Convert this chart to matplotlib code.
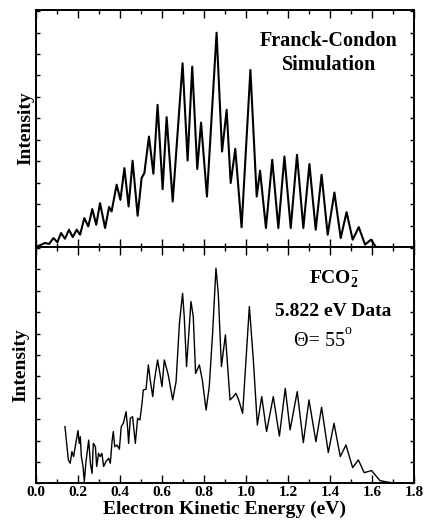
import matplotlib
matplotlib.use("Agg")
import matplotlib.pyplot as plt
from matplotlib.ticker import MultipleLocator

plt.rcParams['font.family'] = ['Liberation Serif', 'DejaVu Serif']
plt.rcParams['mathtext.fontset'] = 'custom'
plt.rcParams['mathtext.rm'] = 'Liberation Serif:bold'
plt.rcParams['mathtext.bf'] = 'Liberation Serif:bold'

# Franck-Condon simulation (верхня панель), точки
sim_energy = [0.0, 0.043, 0.063, 0.083, 0.102, 0.119, 0.138, 0.157, 0.175, 0.194,
              0.210, 0.230, 0.249, 0.268, 0.287, 0.305, 0.329, 0.348, 0.360, 0.384,
              0.402, 0.421, 0.441, 0.460, 0.484, 0.503, 0.516, 0.538, 0.559, 0.579,
              0.603, 0.622, 0.651, 0.698, 0.722, 0.744, 0.768, 0.786, 0.814, 0.860,
              0.886, 0.908, 0.927, 0.949, 0.979, 1.021, 1.051, 1.067, 1.095, 1.125,
              1.154, 1.183, 1.213, 1.243, 1.273, 1.302, 1.332, 1.360, 1.389, 1.421,
              1.451, 1.479, 1.508, 1.537, 1.567, 1.595, 1.619]
sim_intensity = [0.0, 0.017, 0.013, 0.038, 0.020, 0.059, 0.035, 0.073, 0.042, 0.073,
                 0.052, 0.122, 0.087, 0.160, 0.094, 0.185, 0.080, 0.169, 0.150, 0.263,
                 0.199, 0.333, 0.171, 0.364, 0.132, 0.291, 0.312, 0.466, 0.309, 0.600,
                 0.244, 0.548, 0.192, 0.775, 0.365, 0.761, 0.329, 0.525, 0.213, 0.904,
                 0.403, 0.579, 0.270, 0.414, 0.083, 0.747, 0.213, 0.322, 0.080, 0.368,
                 0.080, 0.382, 0.080, 0.389, 0.080, 0.350, 0.073, 0.305, 0.052, 0.230,
                 0.038, 0.147, 0.031, 0.084, 0.010, 0.031, 0.0]

# 5.822 eV data (нижня панель)
data_energy = [0.138, 0.146, 0.154, 0.163, 0.171, 0.179, 0.187, 0.200, 0.206, 0.211,
               0.216, 0.224, 0.230, 0.238, 0.251, 0.259, 0.267, 0.273, 0.283, 0.289,
               0.298, 0.306, 0.314, 0.322, 0.333, 0.346, 0.354, 0.362, 0.368, 0.375,
               0.386, 0.397, 0.406, 0.416, 0.429, 0.437, 0.441, 0.449, 0.460, 0.473,
               0.484, 0.495, 0.505, 0.511, 0.524, 0.535, 0.544, 0.556, 0.563, 0.579,
               0.590, 0.600, 0.611, 0.630, 0.651, 0.667, 0.683, 0.698, 0.706, 0.717,
               0.738, 0.749, 0.760, 0.778, 0.792, 0.810, 0.825, 0.841, 0.857, 0.868,
               0.883, 0.902, 0.924, 0.940, 0.952, 0.965, 0.984, 1.000, 1.016, 1.035,
               1.054, 1.075, 1.098, 1.130, 1.159, 1.187, 1.210, 1.244, 1.273, 1.300,
               1.333, 1.360, 1.392, 1.419, 1.449, 1.476, 1.508, 1.535, 1.563, 1.598,
               1.638, 1.670, 1.710, 1.757]
data_intensity = [0.240, 0.169, 0.099, 0.085, 0.134, 0.113, 0.155, 0.223, 0.169, 0.197,
                  0.113, 0.071, 0.007, 0.092, 0.183, 0.085, 0.042, 0.169, 0.155, 0.071,
                  0.127, 0.113, 0.127, 0.071, 0.092, 0.106, 0.085, 0.176, 0.219, 0.155,
                  0.162, 0.144, 0.240, 0.254, 0.303, 0.226, 0.169, 0.275, 0.282, 0.169,
                  0.275, 0.268, 0.339, 0.395, 0.398, 0.501, 0.437, 0.367, 0.430, 0.522,
                  0.465, 0.409, 0.522, 0.458, 0.353, 0.430, 0.677, 0.804, 0.705, 0.494,
                  0.769, 0.705, 0.465, 0.501, 0.437, 0.310, 0.409, 0.635, 0.910, 0.804,
                  0.494, 0.628, 0.353, 0.367, 0.381, 0.353, 0.296, 0.522, 0.748, 0.522,
                  0.247, 0.367, 0.219, 0.367, 0.200, 0.402, 0.226, 0.388, 0.172, 0.353,
                  0.176, 0.322, 0.130, 0.254, 0.113, 0.162, 0.066, 0.099, 0.045, 0.054,
                  0.011, 0.006, 0.0, 0.0]

x_ticks = [0.0, 0.2, 0.4, 0.6, 0.8, 1.0, 1.2, 1.4, 1.6, 1.8]

fig = plt.figure(figsize=(4.26, 5.23), dpi=100)
ax_top = fig.add_axes([0.0845, 0.5277, 0.8873, 0.4532])
ax_bot = fig.add_axes([0.0845, 0.0759, 0.8873, 0.4518])

ax_top.plot(sim_energy, sim_intensity, color='black', lw=1.5)
ax_bot.plot(data_energy, data_intensity, color='black', lw=1.0)

for ax in (ax_top, ax_bot):
    ax.set_xlim(0, 1.8)
    ax.set_ylim(0, 1.0)
    ax.set_xticks(x_ticks)
    ax.xaxis.set_minor_locator(MultipleLocator(0.1))
    ax.yaxis.set_major_locator(MultipleLocator(0.0905))
    ax.tick_params(which='both', direction='in', top=True, right=True, width=1.0)
    ax.tick_params(axis='x', which='major', length=6)
    ax.tick_params(axis='x', which='minor', length=3)
    ax.tick_params(axis='y', length=3, labelleft=False)
    for s in ax.spines.values():
        s.set_linewidth(1.4)
    ax.set_ylabel("Intensity", fontsize=14, fontweight='bold')

ax_top.tick_params(axis='x', labelbottom=False)
ax_top.yaxis.set_label_coords(-0.004, 0.5)
ax_bot.yaxis.set_label_coords(-0.018, 0.5)

ax_bot.set_xticklabels([f"{t:.1f}" for t in x_ticks], fontsize=11, fontweight='bold')
ax_bot.tick_params(axis='x', pad=2)
ax_bot.set_xlabel("Electron Kinetic Energy (eV)", fontsize=14, fontweight='bold', labelpad=1)

ax_top.text(0.775, 0.82, "Franck-Condon\nSimulation", transform=ax_top.transAxes,
            ha='center', va='center', fontsize=14.5, fontweight='bold', linespacing=1.25)

ax_bot.text(0.79, 0.865, r"$\mathbf{FCO_2^{-}}$", transform=ax_bot.transAxes,
            ha='center', va='center', fontsize=14)
ax_bot.text(0.785, 0.728, "5.822 eV Data", transform=ax_bot.transAxes,
            ha='center', va='center', fontsize=14, fontweight='bold')
ax_bot.text(0.75, 0.6, "Θ= 55", transform=ax_bot.transAxes,
            ha='center', va='center', fontsize=14.5)
ax_bot.text(0.826, 0.645, "o", transform=ax_bot.transAxes,
            ha='center', va='center', fontsize=10)

fig.savefig("out.png", dpi=100)
